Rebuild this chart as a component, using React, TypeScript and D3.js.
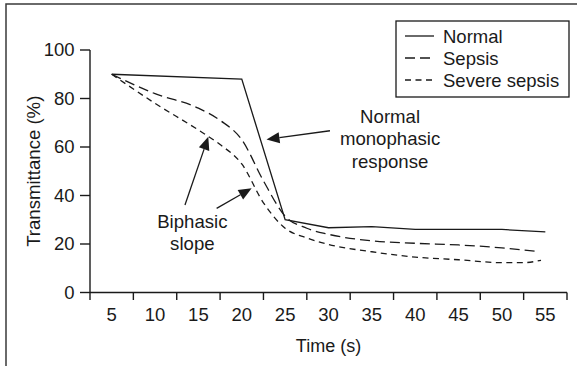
import React from "react";
import * as d3 from "d3";

const xCategories = [5, 10, 15, 20, 25, 30, 35, 40, 45, 50, 55];
const yTicks = [0, 20, 40, 60, 80, 100];

const normalT = [5, 20, 25, 30, 35, 40, 45, 50, 55];
const normalV = [90, 88, 30, 26.7, 27.2, 26, 26, 26, 25];

const sepsisT = [5, 10, 15, 17.5, 20, 22.5, 25, 27.5, 30, 35, 40, 45, 50, 54];
const sepsisV = [90, 82, 76, 71, 63, 46, 31.5, 26.5, 24, 21.3, 20.3, 19.6, 18.4, 17];

const severeT = [5, 10, 15, 17.5, 20, 22.5, 25, 27.5, 30, 35, 40, 45, 50, 52.5, 54.5];
const severeV = [90, 78, 67, 61, 53, 37, 26.5, 22.5, 19.8, 16.8, 14.6, 13.5, 12.3, 12.3, 13.3];

const seriesNames = ["Normal", "Sepsis", "Severe sepsis"];

const W = 577;
const H = 366;
const FONT = "'Liberation Sans', Arial, Helvetica, sans-serif";
const INK = "#1a1a1a";

export default function App() {
  const x0 = 90, x1 = 567, yTop = 50, yBot = 292.5;
  const band = d3.scaleBand<number>().domain(xCategories).range([x0, x1]).padding(0);
  const x = d3.scaleLinear().domain([2.5, 57.5]).range([x0, x1]);
  const y = d3.scaleLinear().domain([0, 100]).range([yBot, yTop]);

  const lineLinear = d3.line<[number, number]>().x(d => x(d[0])).y(d => y(d[1]));
  const lineSmooth = d3.line<[number, number]>().x(d => x(d[0])).y(d => y(d[1])).curve(d3.curveMonotoneX);

  const normalPts = normalT.map((t, i) => [t, normalV[i]] as [number, number]);
  const sepsisPts = sepsisT.map((t, i) => [t, sepsisV[i]] as [number, number]);
  const severePts = severeT.map((t, i) => [t, severeV[i]] as [number, number]);

  const bandEdges = [...xCategories.map(c => band(c)!), x1];

  const arrows: { from: [number, number]; to: [number, number] }[] = [
    { from: [30.17, 66.7], to: [22.85, 63.1] },
    { from: [13.45, 36.1], to: [16.14, 64.2] },
    { from: [17.1, 34.7], to: [21.14, 43.0] },
  ];

  const arrowEl = (a: { from: [number, number]; to: [number, number] }, i: number) => {
    const fx = x(a.from[0]), fy = y(a.from[1]);
    const tx = x(a.to[0]), ty = y(a.to[1]);
    const dx = tx - fx, dy = ty - fy;
    const len = Math.hypot(dx, dy);
    const ux = dx / len, uy = dy / len;
    const hl = 13, hw = 5.5;
    const bx = tx - ux * hl, by = ty - uy * hl;
    const pts = `${tx},${ty} ${bx - uy * hw},${by + ux * hw} ${bx + uy * hw},${by - ux * hw}`;
    return (
      <g key={i}>
        <line x1={fx} y1={fy} x2={bx} y2={by} stroke={INK} strokeWidth={1.3} />
        <polygon points={pts} fill={INK} />
      </g>
    );
  };

  const legendX = 396, legendY = 21, legendW = 173, legendH = 76;
  const dashes = [undefined, "10,5", "6,4.5"];

  return (
    <svg width={W} height={H} style={{ position: "absolute", left: 0, top: 0 }} fontFamily={FONT}>
      <rect x={0} y={0} width={W} height={H} fill="#fff" />
      <rect x={6} y={4} width={640} height={420} fill="none" stroke="#3a3a3a" strokeWidth={1.5} />

      {/* axes */}
      <line x1={x0} y1={yTop} x2={x0} y2={yBot} stroke={INK} strokeWidth={1.4} />
      <line x1={x0} y1={yBot} x2={x1} y2={yBot} stroke={INK} strokeWidth={1.4} />
      {yTicks.map(t => (
        <g key={"y" + t}>
          <line x1={x0 - 10} x2={x0} y1={y(t)} y2={y(t)} stroke={INK} strokeWidth={1.4} />
          <text x={74.5} y={y(t)} dy="0.35em" textAnchor="end" fontSize={18.5} fill={INK}>{t}</text>
        </g>
      ))}
      {bandEdges.map((e, i) => (
        <line key={"xt" + i} x1={e} x2={e} y1={yBot} y2={yBot + 7.5} stroke={INK} strokeWidth={1.4} />
      ))}
      {xCategories.map(c => (
        <text key={"xl" + c} x={band(c)! + band.bandwidth() / 2} y={321} textAnchor="middle" fontSize={18.5} fill={INK}>{c}</text>
      ))}
      <text x={(x0 + x1) / 2} y={352} textAnchor="middle" fontSize={18} fill={INK}>Time (s)</text>
      <text transform={`translate(33,${(yTop + yBot) / 2}) rotate(-90)`} textAnchor="middle" dy="0.35em" fontSize={18.6} fill={INK}>Transmittance (%)</text>

      {/* series */}
      <path d={lineLinear(normalPts)!} fill="none" stroke={INK} strokeWidth={1.3} />
      <path d={lineSmooth(sepsisPts)!} fill="none" stroke={INK} strokeWidth={1.3} strokeDasharray="10,5" />
      <path d={lineSmooth(severePts)!} fill="none" stroke={INK} strokeWidth={1.3} strokeDasharray="6,4.5" />

      {/* annotations */}
      {arrows.map(arrowEl)}
      <g fontSize={18.6} fill={INK} textAnchor="middle">
        <text x={x(37.1)} y={122.5}>Normal</text>
        <text x={x(37.1)} y={145}>monophasic</text>
        <text x={x(37.1)} y={167.5}>response</text>
        <text x={x(14.3)} y={227.5}>Biphasic</text>
        <text x={x(14.3)} y={249.5}>slope</text>
      </g>

      {/* legend */}
      <rect x={legendX} y={legendY} width={legendW} height={legendH} fill="#fff" stroke={INK} strokeWidth={1.3} />
      {seriesNames.map((n, i) => (
        <g key={n}>
          <line x1={405} x2={434} y1={36 + i * 22} y2={36 + i * 22} stroke={INK} strokeWidth={1.3} strokeDasharray={dashes[i]} />
          <text x={443} y={36 + i * 22} dy="0.36em" fontSize={18.5} fill={INK}>{n}</text>
        </g>
      ))}
    </svg>
  );
}
